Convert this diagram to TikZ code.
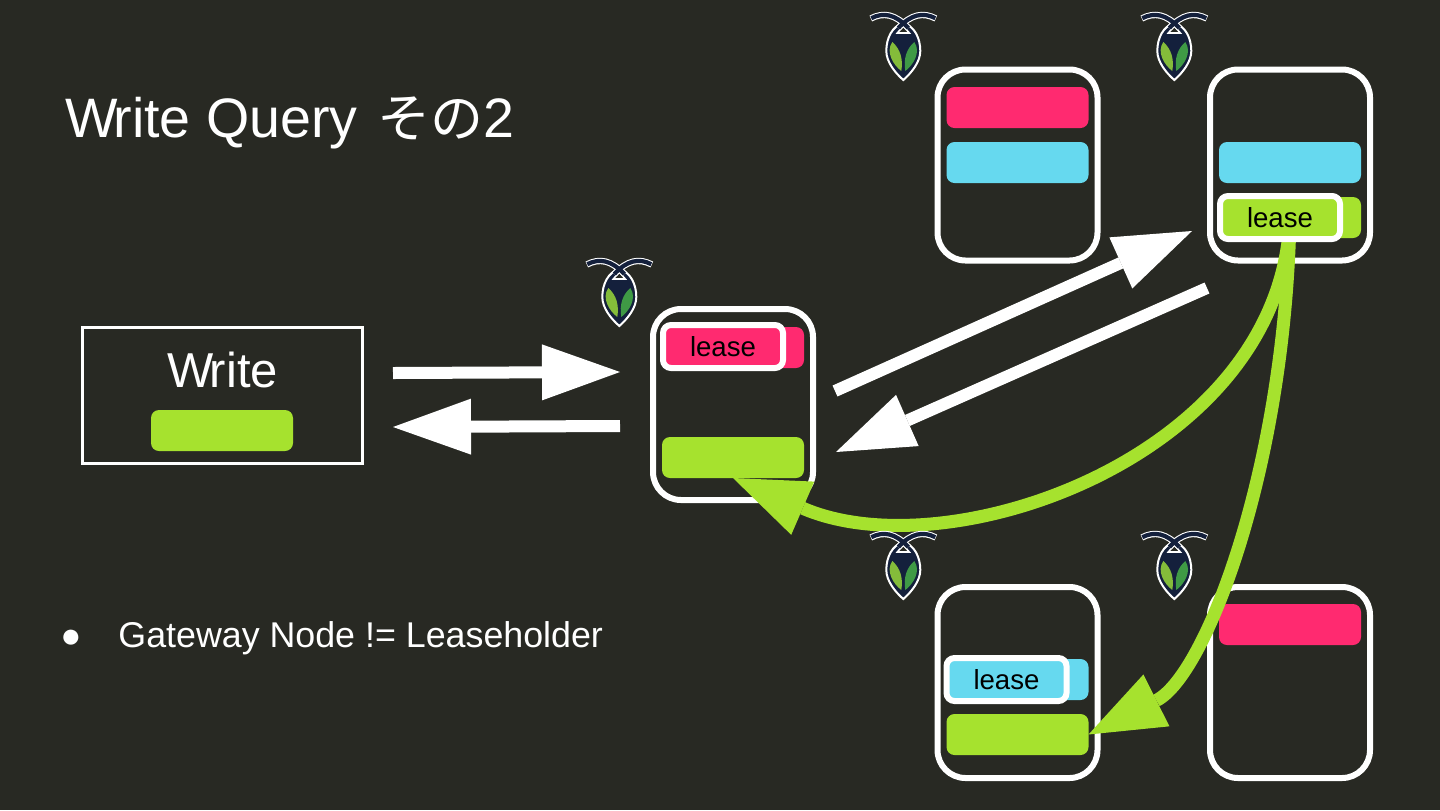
\documentclass[tikz,border=0pt]{standalone}
\usepackage{fontspec}
\setmainfont{Liberation Sans}
\newfontfamily\cjkfont{Noto Sans CJK JP}
\usetikzlibrary{arrows.meta}
\definecolor{bgc}{HTML}{282923}
\definecolor{pinkc}{HTML}{FF2A70}
\definecolor{cyanc}{HTML}{66D9EF}
\definecolor{greenc}{HTML}{A6E22E}
\definecolor{navyc}{HTML}{14203C}
\definecolor{leafa}{HTML}{84BC3A}
\definecolor{leafb}{HTML}{3F9A45}
\tikzset{
  x=0.5pt,y=-0.5pt,
  server/.style={draw=white,line width=3pt,fill=none,minimum width=80pt,minimum height=95.5pt,rounded corners=14pt,inner sep=0pt,outer sep=0pt},
  databar/.style={fill=#1,minimum width=71pt,minimum height=20.5pt,rounded corners=4pt,inner sep=0pt,outer sep=0pt},
  leasebox/.style={draw=white,fill=#1,line width=3pt,minimum width=60pt,minimum height=21.5pt,rounded corners=4pt,inner sep=0pt,outer sep=0pt,text=black,font=\fontsize{13.8pt}{16pt}\selectfont},
  whitearrow/.style={draw=white,line width=6pt,-{Triangle[length=39pt,width=28pt,line width=0pt,fill=white]}},
  greenarrow/.style={draw=greenc,line width=6.5pt,-{Triangle[length=38pt,width=29pt,line width=0pt,fill=greenc]}},
  pics/beetle/.style={code={
    \draw[white,line width=1pt,fill=navyc] (0,-29) .. controls (11,-26) and (17,-14) .. (17,-1) .. controls (17,10) and (8,21) .. (0,28) .. controls (-8,21) and (-17,10) .. (-17,-1) .. controls (-17,-14) and (-11,-26) .. (0,-29) -- cycle;
    \fill[leafa] (-11,-10) .. controls (-3,-3) and (0,7) .. (-2,19) .. controls (-10,13) and (-18,0) .. (-11,-10) -- cycle;
    \fill[leafb] (11,-10) .. controls (3,-3) and (0,7) .. (2,19) .. controls (10,13) and (18,0) .. (11,-10) -- cycle;
    \draw[white,line width=0.8pt,fill=bgc] (0,-26) -- (6,-19) -- (-6,-19) -- cycle;
    \draw[white,line width=3.2pt] (-32.5,-33.5) .. controls (-20,-40) and (-8,-38) .. (5,-24);
    \draw[white,line width=3.2pt] (32.5,-33.5) .. controls (20,-40) and (8,-38) .. (-5,-24);
    \draw[navyc,line width=2.1pt] (-32,-33.8) .. controls (-20,-40) and (-8,-38) .. (5,-24);
    \draw[navyc,line width=2.1pt] (32,-33.8) .. controls (20,-40) and (8,-38) .. (-5,-24);
  }}
}
\begin{document}
\begin{tikzpicture}
\fill[bgc] (0,0) rectangle (1440,810);
\useasboundingbox (0,0) rectangle (1440,810);
% title and bullet
\node[anchor=base west,inner sep=0pt,text=white,font=\fontsize{27.8pt}{30pt}\selectfont] (title) at (65,137) {W\kern-2.2pt rite Query\kern2pt{} {\cjkfont\fontsize{26.5pt}{30pt}\selectfont その}2};
\node[anchor=base west,inner sep=0pt,text=white,font=\fontsize{17.5pt}{20pt}\selectfont] (bullet) at (60,647) {●};
\node[anchor=base west,inner sep=0pt,text=white,font=\fontsize{17.9pt}{20pt}\selectfont] (gateway) at (118,647) {Gateway Node != Leaseholder};
% write box
\node[draw=white,line width=1.5pt,minimum width=140pt,minimum height=68pt,inner sep=0pt,outer sep=0pt] (write) at (222,395) {};
\node[text=white,inner sep=0pt,font=\fontsize{24.5pt}{28pt}\selectfont] (writelabel) at (222.5,370) {W\kern-1.8pt rite};
\node[databar=greenc] (writebar) at (222,430.5) {};
% servers
\node[server] (gw) at (733,404.5) {};
\node[server] (tl) at (1017.5,165) {};
\node[server] (tr) at (1290,165) {};
\node[server] (bl) at (1017.5,682.5) {};
\node[server] (br) at (1290,682.5) {};
% bars
\node[databar=pinkc] (gwpink) at (733,347.5) {};
\node[databar=greenc] (gwgreen) at (733,457.5) {};
\node[databar=pinkc] (tlpink) at (1017.5,107.5) {};
\node[databar=cyanc] (tlcyan) at (1017.5,162.5) {};
\node[databar=cyanc] (trcyan) at (1290,162.5) {};
\node[databar=greenc] (trgreen) at (1290,217.5) {};
\node[databar=cyanc] (blcyan) at (1017.5,679.5) {};
\node[databar=greenc] (blgreen) at (1017.5,734.5) {};
\node[databar=pinkc] (brpink) at (1290,624.5) {};
% white arrows
\coordinate (a1s) at (393,373);
\coordinate (a1e) at (620,372);
\coordinate (a2s) at (620,426);
\coordinate (a2e) at (393,427);
\coordinate (a3s) at (835,391);
\coordinate (a3e) at (1192,231);
\coordinate (a4s) at (1207,288);
\coordinate (a4e) at (836,452);
\draw[whitearrow] (a1s) -- (a1e);
\draw[whitearrow] (a2s) -- (a2e);
\draw[whitearrow] (a3s) -- (a3e);
\draw[whitearrow] (a4s) -- (a4e);
% green curves
\draw[greenarrow] (trgreen.center) .. controls (1282,455) and (950,572) .. (gwgreen.south);
\draw[greenarrow] (trgreen.center) .. controls (1285,470) and (1205,676) .. (blgreen.east);
% lease boxes
\node[leasebox=pinkc] (gwlease) at (723,346.5) {lease};
\node[leasebox=greenc] (trlease) at (1280,217.5) {lease};
\node[leasebox=cyanc] (bllease) at (1006.5,679.5) {lease};
% logos
\pic at (619.3,298) {beetle};
\pic at (903.3,52) {beetle};
\pic at (1174.3,52) {beetle};
\pic at (903.3,571) {beetle};
\pic at (1174.3,571) {beetle};
\end{tikzpicture}
\end{document}
